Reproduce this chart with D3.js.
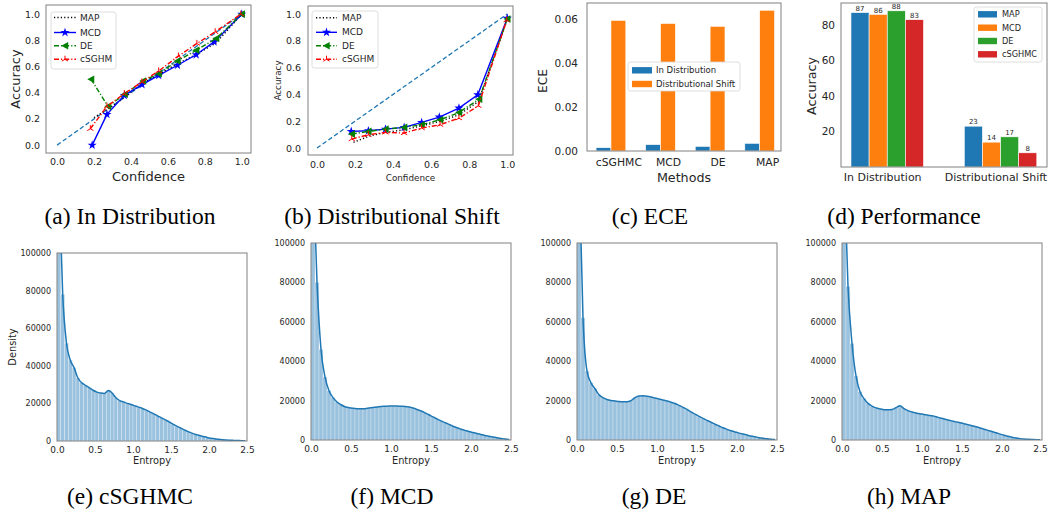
<!DOCTYPE html>
<html>
<head>
<meta charset="utf-8">
<title>Calibration and entropy panels</title>
<script src="https://d3js.org/d3.v7.min.js"></script>
<style>
    body { margin: 0; background: #fff; }
    svg text { font-family: "DejaVu Sans", sans-serif; fill: #262626; }
    svg text.caption { font-family: "Liberation Serif", "Times New Roman", serif; fill: #000; }
</style>
</head>
<body>
<svg id="fig" width="1048" height="514"></svg>
<script>
// ---- data: reliability curves, in distribution (a)
const confA_MAP = [0.2, 0.28, 0.37, 0.46, 0.55, 0.65, 0.75, 0.86, 1.0];
const accA_MAP = [0.21, 0.28, 0.37, 0.47, 0.54, 0.62, 0.69, 0.78, 1.0];
const confA_MCD = [0.19, 0.27, 0.364, 0.46, 0.55, 0.652, 0.753, 0.85, 1.0];
const accA_MCD = [0.0, 0.235, 0.38, 0.462, 0.533, 0.61, 0.69, 0.788, 1.0];
const confA_DE = [0.184, 0.276, 0.366, 0.465, 0.55, 0.652, 0.753, 0.861, 1.0];
const accA_DE = [0.503, 0.296, 0.388, 0.49, 0.546, 0.643, 0.724, 0.814, 1.0];
const confA_SG = [0.18, 0.27, 0.364, 0.459, 0.55, 0.657, 0.757, 0.856, 0.995];
const accA_SG = [0.125, 0.296, 0.393, 0.482, 0.566, 0.68, 0.776, 0.865, 1.0];

// ---- data: reliability curves, distributional shift (b)
const confB_MAP = [0.192, 0.27, 0.36, 0.458, 0.55, 0.647, 0.746, 0.848, 1.0];
const accB_MAP = [0.042, 0.087, 0.117, 0.136, 0.166, 0.199, 0.248, 0.347, 0.96];
const confB_MCD = [0.18, 0.27, 0.36, 0.458, 0.55, 0.643, 0.746, 0.845, 1.0];
const accB_MCD = [0.124, 0.129, 0.141, 0.154, 0.191, 0.231, 0.298, 0.397, 0.968];
const confB_DE = [0.183, 0.27, 0.36, 0.458, 0.55, 0.647, 0.746, 0.852, 1.0];
const accB_DE = [0.104, 0.124, 0.141, 0.154, 0.174, 0.211, 0.265, 0.365, 0.963];
const confB_SG = [0.183, 0.27, 0.36, 0.458, 0.55, 0.647, 0.746, 0.848, 0.997];
const accB_SG = [0.067, 0.099, 0.117, 0.112, 0.149, 0.174, 0.223, 0.315, 0.955];

const calibTicks = [0.0, 0.2, 0.4, 0.6, 0.8, 1.0];

// ---- data: ECE (c)
const eceMethods = ['cSGHMC', 'MCD', 'DE', 'MAP'];
const eceInDist = [0.0015, 0.0029, 0.0021, 0.0035];
const eceShift = [0.0594, 0.0580, 0.0567, 0.0640];
const eceTicks = [0.00, 0.02, 0.04, 0.06];

// ---- data: accuracy (d)
const perfGroups = ['In Distribution', 'Distributional Shift'];
const perfMethods = ['MAP', 'MCD', 'DE', 'cSGHMC'];
const perfInDist = [87, 86, 88, 83];
const perfShift = [23, 14, 17, 8];
const perfTicks = [20, 40, 60, 80];

// ---- data: entropy histograms (e-h), bin centres of width 0.05
const entropyBins = [0.025, 0.075, 0.125, 0.175, 0.225, 0.275, 0.325, 0.375, 0.425, 0.475,
    0.525, 0.575, 0.625, 0.675, 0.725, 0.775, 0.825, 0.875, 0.925, 0.975,
    1.025, 1.075, 1.125, 1.175, 1.225, 1.275, 1.325, 1.375, 1.425, 1.475,
    1.525, 1.575, 1.625, 1.675, 1.725, 1.775, 1.825, 1.875, 1.925, 1.975,
    2.025, 2.075, 2.125, 2.175, 2.225, 2.275, 2.325, 2.375, 2.425, 2.475];
const densSGHMC = [140000, 78000, 52000, 43000, 39000, 33500, 31000, 29600, 28300, 27000,
    26000, 25500, 25300, 26800, 25500, 23000, 21500, 20800, 20000, 19400,
    18700, 18000, 17300, 16400, 15400, 14400, 13300, 12300, 11200, 10200,
    9000, 7900, 6900, 5900, 5000, 4200, 3500, 2900, 2400, 1900,
    1500, 1200, 900, 700, 550, 420, 320, 250, 180, 120];
const densMCD = [140000, 80000, 46000, 32000, 25000, 21500, 19300, 17900, 16900, 16400,
    16100, 15900, 15800, 15900, 16200, 16500, 16800, 17000, 17100, 17200,
    17200, 17200, 17100, 17000, 16700, 16200, 15500, 14700, 13800, 12800,
    11700, 10700, 9700, 8800, 7900, 7000, 6200, 5500, 4900, 4300,
    3800, 3300, 2800, 2300, 1900, 1500, 1100, 800, 500, 300];
const densDE = [140000, 62000, 35000, 29000, 26000, 23000, 21500, 20600, 20100, 19800,
    19500, 19400, 19400, 20000, 21500, 22300, 22400, 22200, 21800, 21300,
    20800, 20300, 19800, 19200, 18500, 17600, 16600, 15500, 14300, 13100,
    12000, 11000, 10000, 9000, 8000, 7100, 6200, 5400, 4700, 4100,
    3500, 3000, 2500, 2000, 1600, 1200, 900, 600, 400, 250];
const densMAP = [140000, 78000, 49000, 32500, 24500, 21000, 18600, 17200, 16300, 15800,
    15400, 15300, 15500, 16400, 17400, 15900, 14900, 14200, 13700, 13300,
    13000, 12600, 12300, 11800, 11200, 10700, 10200, 9700, 9200, 8800,
    8300, 7800, 7200, 6700, 6100, 5500, 4900, 4300, 3700, 3000,
    2400, 1900, 1400, 1000, 700, 500, 350, 250, 180, 120];
const entropyTicks = [0.0, 0.5, 1.0, 1.5, 2.0, 2.5];
const densityTicks = [0, 20000, 40000, 60000, 80000, 100000];

// ---- drawing
const svg = d3.select('#fig');
const spineColor = '#808080';
const tab = { blue: '#1f77b4', orange: '#ff7f0e', green: '#2ca02c', red: '#d62728' };

function frame(b) {
    svg.append('rect')
        .attr('x', b.x0).attr('y', b.y0)
        .attr('width', b.x1 - b.x0).attr('height', b.y1 - b.y0)
        .attr('fill', 'none').attr('stroke', spineColor).attr('stroke-width', 1);
}

function leftAxis(b, y, ticks, fmt, fs, pad) {
    svg.append('g')
        .attr('transform', `translate(${b.x0},0)`)
        .call(d3.axisLeft(y).tickValues(ticks).tickFormat(fmt).tickSize(0).tickPadding(pad))
        .attr('font-size', fs)
        .call(g => g.select('.domain').remove());
}

function bottomAxis(b, x, ticks, fmt, fs, pad) {
    return svg.append('g')
        .attr('transform', `translate(0,${b.y1})`)
        .call(d3.axisBottom(x).tickValues(ticks).tickFormat(fmt).tickSize(0).tickPadding(pad))
        .attr('font-size', fs)
        .call(g => g.select('.domain').remove());
}

function xTitle(b, text, y, fs) {
    svg.append('text').attr('x', (b.x0 + b.x1) / 2).attr('y', y)
        .attr('text-anchor', 'middle').attr('dominant-baseline', 'central')
        .attr('font-size', fs).text(text);
}

function yTitle(x, y, text, fs) {
    svg.append('text').attr('transform', `translate(${x},${y}) rotate(-90)`)
        .attr('text-anchor', 'middle').attr('dominant-baseline', 'central')
        .attr('font-size', fs).text(text);
}

function caption(x, y, text) {
    svg.append('text').attr('class', 'caption')
        .attr('x', x).attr('y', y).attr('text-anchor', 'middle')
        .attr('font-size', 23.5).text(text);
}

function marker(g, type, cx, cy, color) {
    if (type === 'star') {
        g.append('path').attr('d', d3.symbol(d3.symbolStar, 26)())
            .attr('transform', `translate(${cx},${cy})`).attr('fill', color);
    } else if (type === 'left') {
        g.append('path').attr('d', 'M-3.8,0L3.2,-3.8L3.2,3.8Z')
            .attr('transform', `translate(${cx},${cy})`).attr('fill', color);
    } else if (type === 'tri') {
        g.append('path').attr('d', 'M0,0L0,-3.6M0,0L-3.1,1.8M0,0L3.1,1.8')
            .attr('transform', `translate(${cx},${cy})`)
            .attr('fill', 'none').attr('stroke', color).attr('stroke-width', 1);
    }
}

const lineStyles = [
    { name: 'MAP', color: '#000000', dash: '1.2,2.2', marker: null },
    { name: 'MCD', color: '#0000ff', dash: null, marker: 'star' },
    { name: 'DE', color: '#008000', dash: '5,2,1.2,2', marker: 'left' },
    { name: 'cSGHM', color: '#ff0000', dash: '5,2,1.2,2', marker: 'tri' }
];

function calibPanel(b, xDom, yDom, series, opt) {
    const x = d3.scaleLinear().domain(xDom).range([b.x0, b.x1]);
    const y = d3.scaleLinear().domain(yDom).range([b.y1, b.y0]);
    const g = svg.append('g');
    // perfect calibration diagonal
    g.append('path').attr('d', d3.line()([[x(0), y(0)], [x(1), y(1)]]))
        .attr('stroke', tab.blue).attr('stroke-width', 1.3)
        .attr('stroke-dasharray', '4.5,2.5').attr('fill', 'none');
    const line = d3.line().x(d => x(d[0])).y(d => y(d[1]));
    series.forEach((s, k) => {
        const st = lineStyles[k];
        const pts = s.conf.map((c, i) => [c, s.acc[i]]);
        g.append('path').attr('d', line(pts))
            .attr('fill', 'none').attr('stroke', st.color).attr('stroke-width', 1.4)
            .attr('stroke-dasharray', st.dash);
        if (st.marker) pts.forEach(p => marker(g, st.marker, x(p[0]), y(p[1]), st.color));
    });
    frame(b);
    leftAxis(b, y, calibTicks, d3.format('.1f'), opt.tickFs, opt.yPad);
    bottomAxis(b, x, calibTicks, d3.format('.1f'), opt.tickFs, opt.xPad);
    xTitle(b, 'Confidence', opt.xTitleY, opt.titleFs);
    yTitle(opt.yTitleX, (b.y0 + b.y1) / 2, 'Accuracy', opt.titleFs);

    // legend
    const L = opt.legend;
    svg.append('rect').attr('x', L.x).attr('y', L.y).attr('width', L.w).attr('height', L.h)
        .attr('rx', 2.5).attr('fill', '#fff').attr('stroke', '#d6d6d6').attr('stroke-width', 0.8);
    lineStyles.forEach((st, k) => {
        const ry = L.rows[k];
        svg.append('line').attr('x1', L.s0).attr('x2', L.s1).attr('y1', ry).attr('y2', ry)
            .attr('stroke', st.color).attr('stroke-width', 1.4).attr('stroke-dasharray', st.dash);
        if (st.marker) marker(svg, st.marker, (L.s0 + L.s1) / 2, ry, st.color);
        svg.append('text').attr('x', L.tx).attr('y', ry).attr('dominant-baseline', 'central')
            .attr('font-size', L.fs).text(st.name);
    });
}

// (a)
calibPanel({ x0: 46, x1: 251, y0: 5, y1: 153 }, [-0.06, 1.05], [-0.06, 1.07], [
    { conf: confA_MAP, acc: accA_MAP }, { conf: confA_MCD, acc: accA_MCD },
    { conf: confA_DE, acc: accA_DE }, { conf: confA_SG, acc: accA_SG }
], {
    tickFs: 9.5, titleFs: 13, yPad: 6, xPad: 5, xTitleY: 176, yTitleX: 15,
    legend: { x: 51, y: 12, w: 65, h: 57, rows: [17.5, 32.5, 45.8, 59.3], s0: 54, s1: 76, tx: 80, fs: 9 }
});

// (b)
calibPanel({ x0: 308, x1: 513, y0: 6, y1: 155 }, [-0.047, 1.03], [-0.052, 1.06], [
    { conf: confB_MAP, acc: accB_MAP }, { conf: confB_MCD, acc: accB_MCD },
    { conf: confB_DE, acc: accB_DE }, { conf: confB_SG, acc: accB_SG }
], {
    tickFs: 9.5, titleFs: 8.8, yPad: 7, xPad: 6, xTitleY: 178, yTitleX: 278,
    legend: { x: 312, y: 11, w: 66, h: 57, rows: [17.7, 32.3, 45.7, 59.3], s0: 316, s1: 337, tx: 342, fs: 9 }
});

// (c) ECE
(function () {
    const b = { x0: 587, x1: 781, y0: 3, y1: 151 };
    const w = 0.3;
    const x = d3.scaleLinear().domain([-0.333, 3.58]).range([b.x0, b.x1]);
    const y = d3.scaleLinear().domain([0, 0.0673]).range([b.y1, b.y0]);
    const g = svg.append('g');
    [[eceInDist, tab.blue, 0], [eceShift, tab.orange, w]].forEach(([vals, col, off]) => {
        g.selectAll(null).data(vals).join('rect')
            .attr('x', (d, i) => x(i + off - w / 2))
            .attr('width', x(w) - x(0))
            .attr('y', d => y(d)).attr('height', d => y(0) - y(d))
            .attr('fill', col).attr('stroke', '#fff').attr('stroke-width', 0.6);
    });
    frame(b);
    leftAxis(b, y, eceTicks, d3.format('.2f'), 10.5, 9);
    svg.append('g').attr('transform', `translate(0,${b.y1})`)
        .call(d3.axisBottom(x).tickValues([0, 1, 2, 3].map(i => i + w))
            .tickFormat((d, i) => eceMethods[i]).tickSize(0).tickPadding(7))
        .attr('font-size', 10.8)
        .call(a => a.select('.domain').remove());
    xTitle(b, 'Methods', 177, 12.7);
    yTitle(543, 81, 'ECE', 12.2);
    // legend
    svg.append('rect').attr('x', 628).attr('y', 62).attr('width', 112).attr('height', 29)
        .attr('rx', 2.5).attr('fill', '#fff').attr('stroke', '#d6d6d6').attr('stroke-width', 0.8);
    [['In Distribution', tab.blue, 70.3], ['Distributional Shift', tab.orange, 84]].forEach(([t, c, ry]) => {
        svg.append('rect').attr('x', 632).attr('y', ry - 3.2).attr('width', 20).attr('height', 6.4).attr('fill', c);
        svg.append('text').attr('x', 656).attr('y', ry).attr('dominant-baseline', 'central')
            .attr('font-size', 8.5).text(t);
    });
})();

// (d) accuracy
(function () {
    const b = { x0: 841, x1: 1047, y0: 3, y1: 167 };
    const w = 0.16;
    const x = d3.scaleLinear().domain([-0.168, 1.65]).range([b.x0, b.x1]);
    const y = d3.scaleLinear().domain([0, 92.4]).range([b.y1, b.y0]);
    const cols = [tab.blue, tab.orange, tab.green, tab.red];
    const g = svg.append('g');
    [perfInDist, perfShift].forEach((vals, gi) => {
        vals.forEach((v, k) => {
            const cx = gi + k * w;
            g.append('rect').attr('x', x(cx - w / 2)).attr('width', x(w) - x(0))
                .attr('y', y(v)).attr('height', y(0) - y(v))
                .attr('fill', cols[k]).attr('stroke', '#fff').attr('stroke-width', 0.6);
            g.append('text').attr('x', x(cx)).attr('y', y(v) - 1.8)
                .attr('text-anchor', 'middle').attr('font-size', 7).text(v);
        });
    });
    frame(b);
    leftAxis(b, y, perfTicks, d3.format('d'), 10.5, 6);
    svg.append('g').attr('transform', `translate(0,${b.y1})`)
        .call(d3.axisBottom(x).tickValues([0.195, 1.195])
            .tickFormat((d, i) => perfGroups[i]).tickSize(0).tickPadding(6))
        .attr('font-size', 11)
        .call(a => a.select('.domain').remove());
    yTitle(811, 86, 'Accuracy', 12.7);
    svg.append('rect').attr('x', 974).attr('y', 7).attr('width', 68).attr('height', 55)
        .attr('rx', 2.5).attr('fill', '#fff').attr('stroke', '#d6d6d6').attr('stroke-width', 0.8);
    perfMethods.forEach((m, k) => {
        const ry = [14.3, 27.7, 41, 54.3][k];
        svg.append('rect').attr('x', 978).attr('y', ry - 3.2).attr('width', 19).attr('height', 6.4).attr('fill', cols[k]);
        svg.append('text').attr('x', 1002).attr('y', ry).attr('dominant-baseline', 'central')
            .attr('font-size', 8.2).text(m);
    });
})();

// (e)-(h) entropy histograms
let clipId = 0;
function histPanel(b, vals, withYTitle, lastShift) {
    const x = d3.scaleLinear().domain([0, 2.5]).range([b.x0, b.x1]);
    const y = d3.scaleLinear().domain([0, 100000]).range([b.y1, b.y0]);
    const id = 'clip' + (clipId++);
    svg.append('clipPath').attr('id', id).append('rect')
        .attr('x', b.x0).attr('y', b.y0).attr('width', b.x1 - b.x0).attr('height', b.y1 - b.y0);
    const g = svg.append('g').attr('clip-path', `url(#${id})`);
    const half = 0.025;
    g.selectAll(null).data(vals).join('rect')
        .attr('x', (d, i) => x(entropyBins[i] - half))
        .attr('width', x(2 * half) - x(0))
        .attr('y', d => y(d)).attr('height', d => y(0) - y(d))
        .attr('fill', '#9ac2de').attr('stroke', '#e8f1f8').attr('stroke-width', 0.35);
    g.append('path')
        .attr('d', d3.line().x((d, i) => x(entropyBins[i])).y(d => y(d)).curve(d3.curveMonotoneX)(vals))
        .attr('fill', 'none').attr('stroke', tab.blue).attr('stroke-width', 1.5);
    frame(b);
    leftAxis(b, y, densityTicks, d3.format('d'), 8, 6);
    const ax = bottomAxis(b, x, entropyTicks, d3.format('.1f'), 9, 5.5);
    if (lastShift) ax.selectAll('.tick:last-of-type text').attr('dx', lastShift);
    xTitle(b, 'Entropy', 460, 9.8);
    if (withYTitle) yTitle(12, (b.y0 + b.y1) / 2, 'Density', 9.8);
}

histPanel({ x0: 57, x1: 247, y0: 253, y1: 441 }, densSGHMC, true, 0);
histPanel({ x0: 311, x1: 511, y0: 243, y1: 440 }, densMCD, false, 0);
histPanel({ x0: 577, x1: 777, y0: 243, y1: 440 }, densDE, false, 0);
histPanel({ x0: 842, x1: 1042, y0: 243, y1: 440 }, densMAP, false, -2);

// captions
caption(130, 224, '(a) In Distribution');
caption(392, 224, '(b) Distributional Shift');
caption(650, 224, '(c) ECE');
caption(904, 224, '(d) Performance');
caption(130, 504, '(e) cSGHMC');
caption(392, 504, '(f) MCD');
caption(654, 504, '(g) DE');
caption(909, 504, '(h) MAP');
</script>
</body>
</html>
